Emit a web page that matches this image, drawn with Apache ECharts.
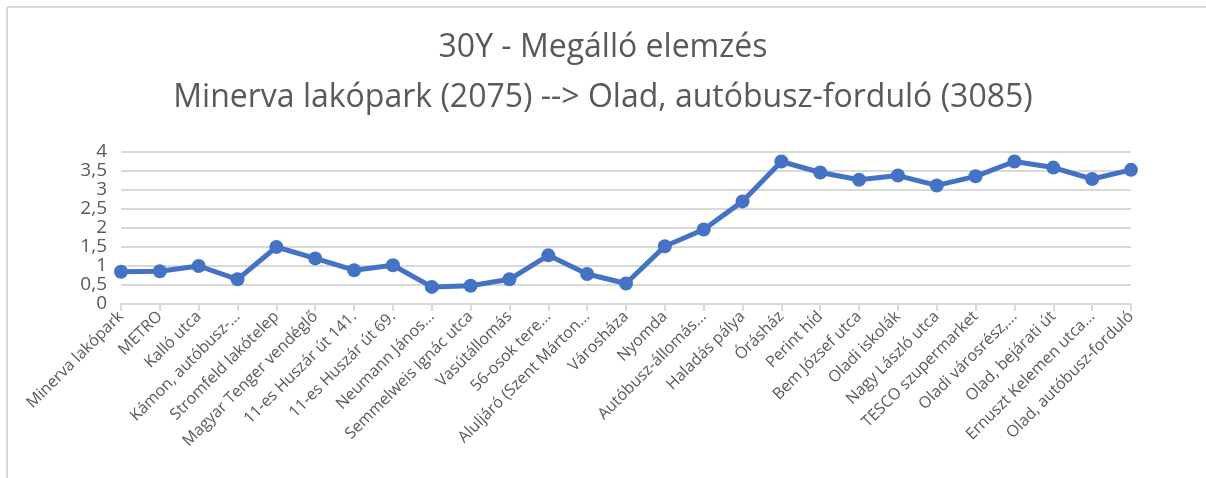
<!DOCTYPE html>
<html><head><meta charset="utf-8">
<script src="https://cdn.jsdelivr.net/npm/echarts@6/dist/echarts.min.js"></script>
<style>html,body{margin:0;padding:0;background:#fff}#c{width:1206px;height:478px}</style>
</head><body><div id="c"></div>
<script>
const categories = ["Minerva lakópark","METRO","Kalló utca","Kámon, autóbusz-...","Stromfeld lakótelep","Magyar Tenger vendéglő","11-es Huszár út 141.","11-es Huszár út 69.","Neumann János...","Semmelweis Ignác utca","Vasútállomás","56-osok tere...","Aluljáró (Szent Márton...","Városháza","Nyomda","Autóbusz-állomás...","Haladás pálya","Órásház","Perint híd","Bem József utca","Oladi iskolák","Nagy László utca","TESCO szupermarket","Oladi városrész,...","Olad, bejárati út","Ernuszt Kelemen utca...","Olad, autóbusz-forduló"];
const values = [0.85,0.86,1.0,0.65,1.5,1.2,0.89,1.02,0.45,0.48,0.65,1.28,0.79,0.54,1.52,1.96,2.7,3.75,3.46,3.27,3.38,3.12,3.36,3.75,3.59,3.29,3.53];
const titleLines = ["30Y - Megálló elemzés","Minerva lakópark (2075) --> Olad, autóbusz-forduló (3085)"];

const chart = echarts.init(document.getElementById('c'));
chart.setOption({
  animation:false,
  backgroundColor:'#fff',
  graphic:[
    {type:'line',shape:{x1:7,y1:7,x2:1206,y2:7},style:{stroke:'#d9d9d9',lineWidth:2}},
    {type:'line',shape:{x1:7,y1:7,x2:7,y2:478},style:{stroke:'#d9d9d9',lineWidth:2}}
  ],
  title:{text:titleLines.join('\n'),left:'center',top:18,
    textStyle:{fontFamily:'Open Sans',fontWeight:'normal',fontSize:32,color:'#595959',lineHeight:50}},
  grid:{left:121,right:75,top:152,bottom:174,containLabel:false},
  xAxis:{type:'category',data:categories,boundaryGap:false,
    axisLine:{lineStyle:{color:'#d9d9d9',width:2}},
    axisTick:{show:true,alignWithLabel:true,length:7,lineStyle:{color:'#d9d9d9',width:2}},
    axisLabel:{interval:0,rotate:45,fontFamily:'Open Sans',fontSize:16,color:'#595959',margin:10},
    splitLine:{show:false}},
  yAxis:{type:'value',min:0,max:4,interval:0.5,
    axisLine:{show:false},axisTick:{show:false},
    axisLabel:{fontFamily:'Open Sans',fontSize:19,color:'#595959',margin:14,
      formatter:v=>String(v).replace('.',',')},
    splitLine:{lineStyle:{color:'#d9d9d9',width:2}}},
  series:[{type:'line',data:values,symbol:'circle',symbolSize:14,
    lineStyle:{color:'#4472C4',width:5},itemStyle:{color:'#4472C4'}}]
});
</script></body></html>
